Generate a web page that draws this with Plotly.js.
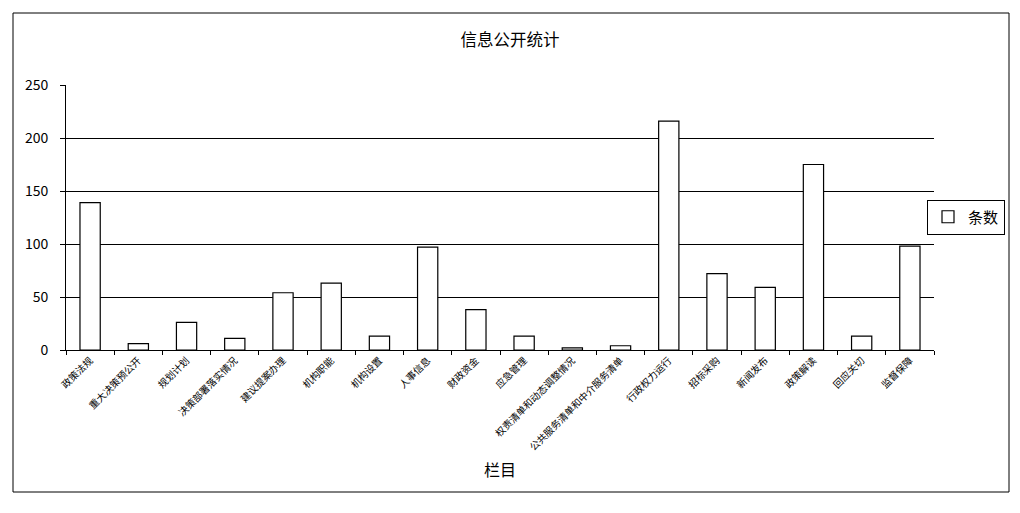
<!DOCTYPE html>
<html>
<head>
<meta charset="utf-8">
<script src="https://cdn.plot.ly/plotly-3.0.1.min.js"></script>
<style>html,body{margin:0;padding:0;background:#fff;}#chart{width:1020px;height:513px;}</style>
</head>
<body>
<div id="chart"></div>
<script>
var categories = ["政策法规","重大决策预公开","规划计划","决策部署落实情况","建议提案办理","机构职能","机构设置","人事信息","财政资金","应急管理","权责清单和动态调整情况","公共服务清单和中介服务清单","行政权力运行","招标采购","新闻发布","政策解读","回应关切","监督保障"];
var counts = [139, 6, 26, 11, 54, 63, 13, 97, 38, 13, 2, 4, 216, 72, 59, 175, 13, 98];
var seriesName = "条数";
var yTicks = [0, 50, 100, 150, 200, 250];

var FONT = "'Noto Sans CJK SC', 'DejaVu Sans', sans-serif";
var L = 66, R = 86, T = 85, B = 163, W = 1020, H = 513;
var pw = W - L - R, ph = H - T - B;

var trace = {
  type: "bar",
  x: categories,
  y: counts,
  name: seriesName,
  showlegend: true,
  marker: {color: "#ffffff", line: {color: "#000000", width: 1.2}}
};

var layout = {
  width: W, height: H,
  margin: {l: L, r: R, t: T, b: B, autoexpand: false},
  paper_bgcolor: "#ffffff",
  plot_bgcolor: "#ffffff",
  bargap: 0.58,
  font: {family: FONT, color: "#000"},
  title: {text: "信息公开统计", font: {family: FONT, size: 16.5, color: "#000"}, x: 0.5, xanchor: "center", y: 1 - 40/H, yanchor: "middle"},
  xaxis: {
    type: "category",
    tickangle: -45,
    tickfont: {family: FONT, size: 9.8, color: "#000"},
    ticks: "outside", tickson: "boundaries", ticklen: 4, tickcolor: "#000",
    showline: true, linecolor: "#000", linewidth: 1,
    showgrid: false, automargin: false,
    title: {text: "栏目", font: {family: FONT, size: 16, color: "#000"}, standoff: 12}
  },
  yaxis: {
    range: [0, 250],
    tickvals: yTicks,
    ticktext: yTicks.map(String),
    tickfont: {family: FONT, size: 14, color: "#000"},
    ticks: "outside", ticklen: 5, tickcolor: "#000",
    ticklabelstandoff: 9,
    showline: true, linecolor: "#000", linewidth: 1,
    showgrid: true, gridcolor: "#000", gridwidth: 1,
    zeroline: false, automargin: false
  },
  legend: {
    xref: "container", yref: "container",
    x: 927 / W, xanchor: "left",
    y: 1 - 217 / H, yanchor: "middle",
    bordercolor: "#000", borderwidth: 1,
    bgcolor: "#fff",
    font: {family: FONT, size: 15, color: "#000"},
    itemwidth: 30
  },
  shapes: [{
    type: "rect", xref: "paper", yref: "paper",
    x0: (13 - L)/pw, x1: (1009 - L)/pw,
    y0: (H - B - 492)/ph, y1: (H - B - 13)/ph,
    line: {color: "#000", width: 1}, fillcolor: "rgba(0,0,0,0)", layer: "below"
  }]
};

Plotly.newPlot("chart", [trace], layout, {displayModeBar: false, staticPlot: true});
</script>
</body>
</html>
